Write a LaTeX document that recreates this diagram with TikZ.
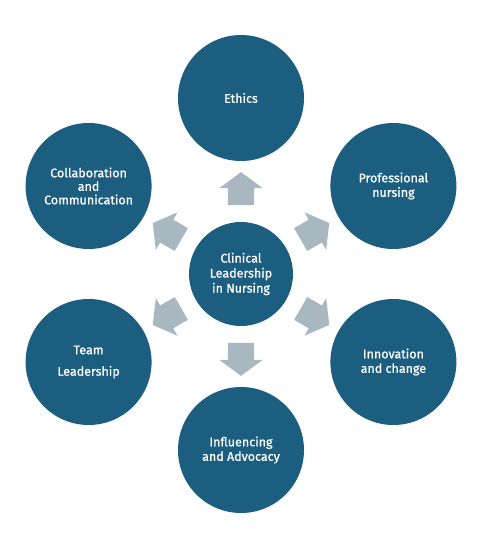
\documentclass[tikz,border=0pt]{standalone}
\usepackage{fontspec}
\setmainfont{Fira Sans}
\newfontfamily\labelfont{Fira Sans}[FakeBold=0.9]
\usetikzlibrary{shapes.arrows}

\definecolor{circleblue}{RGB}{27,94,127}
\definecolor{arrowgrey}{RGB}{169,183,193}

\begin{document}
\begin{tikzpicture}
		\tikzstyle{Topic} = [circle, minimum size=126pt, inner sep=0pt, text centered, align=center, fill=circleblue, text=white, font=\labelfont\fontsize{12.5}{14.5}\selectfont]
		\tikzstyle{Core} = [circle, minimum size=104pt, inner sep=0pt, text centered, align=center, fill=circleblue, text=white, font=\labelfont\fontsize{12.5}{15}\selectfont]
		\tikzstyle{BlockArrow} = [single arrow, fill=arrowgrey, inner xsep=0pt, inner ysep=13pt, minimum height=33pt, single arrow head extend=8.5pt, single arrow tip angle=107]
		
		%\draw[step=10pt,gray,very thin] (-241pt,-262pt) grid (248pt,274pt);
		\useasboundingbox (-241pt,-262pt) rectangle (248pt,274pt);
		
		\node (coreNode) [Core] at (0,0) {Clinical\\Leadership\\in Nursing};
		\node (ethicsNode) [Topic] at (90:176pt) {Ethics};
		\node (profNode) [Topic] at (30:176pt) {Professional\\nursing};
		\node (innovNode) [Topic] at (-30:176pt) {Innovation\\and change};
		\node (influNode) [Topic] at (-90:176pt) {Influencing\\and Advocacy};
		\node (teamNode) [Topic] at (-150:176pt) {Team\\[7pt]Leadership};
		\node (collabNode) [Topic] at (150:176pt) {Collaboration\\[-1pt]and\\[-1pt]Communication};
		\node (ethicsArrow) [BlockArrow, rotate=90] at (90:80.5pt) {};
		\node (profArrow) [BlockArrow, rotate=30] at (30:80.5pt) {};
		\node (innovArrow) [BlockArrow, rotate=-30] at (-30:80.5pt) {};
		\node (influArrow) [BlockArrow, rotate=-90] at (-90:80.5pt) {};
		\node (teamArrow) [BlockArrow, rotate=-150] at (-150:80.5pt) {};
		\node (collabArrow) [BlockArrow, rotate=150] at (150:80.5pt) {};
		\end{tikzpicture}
\end{document}
